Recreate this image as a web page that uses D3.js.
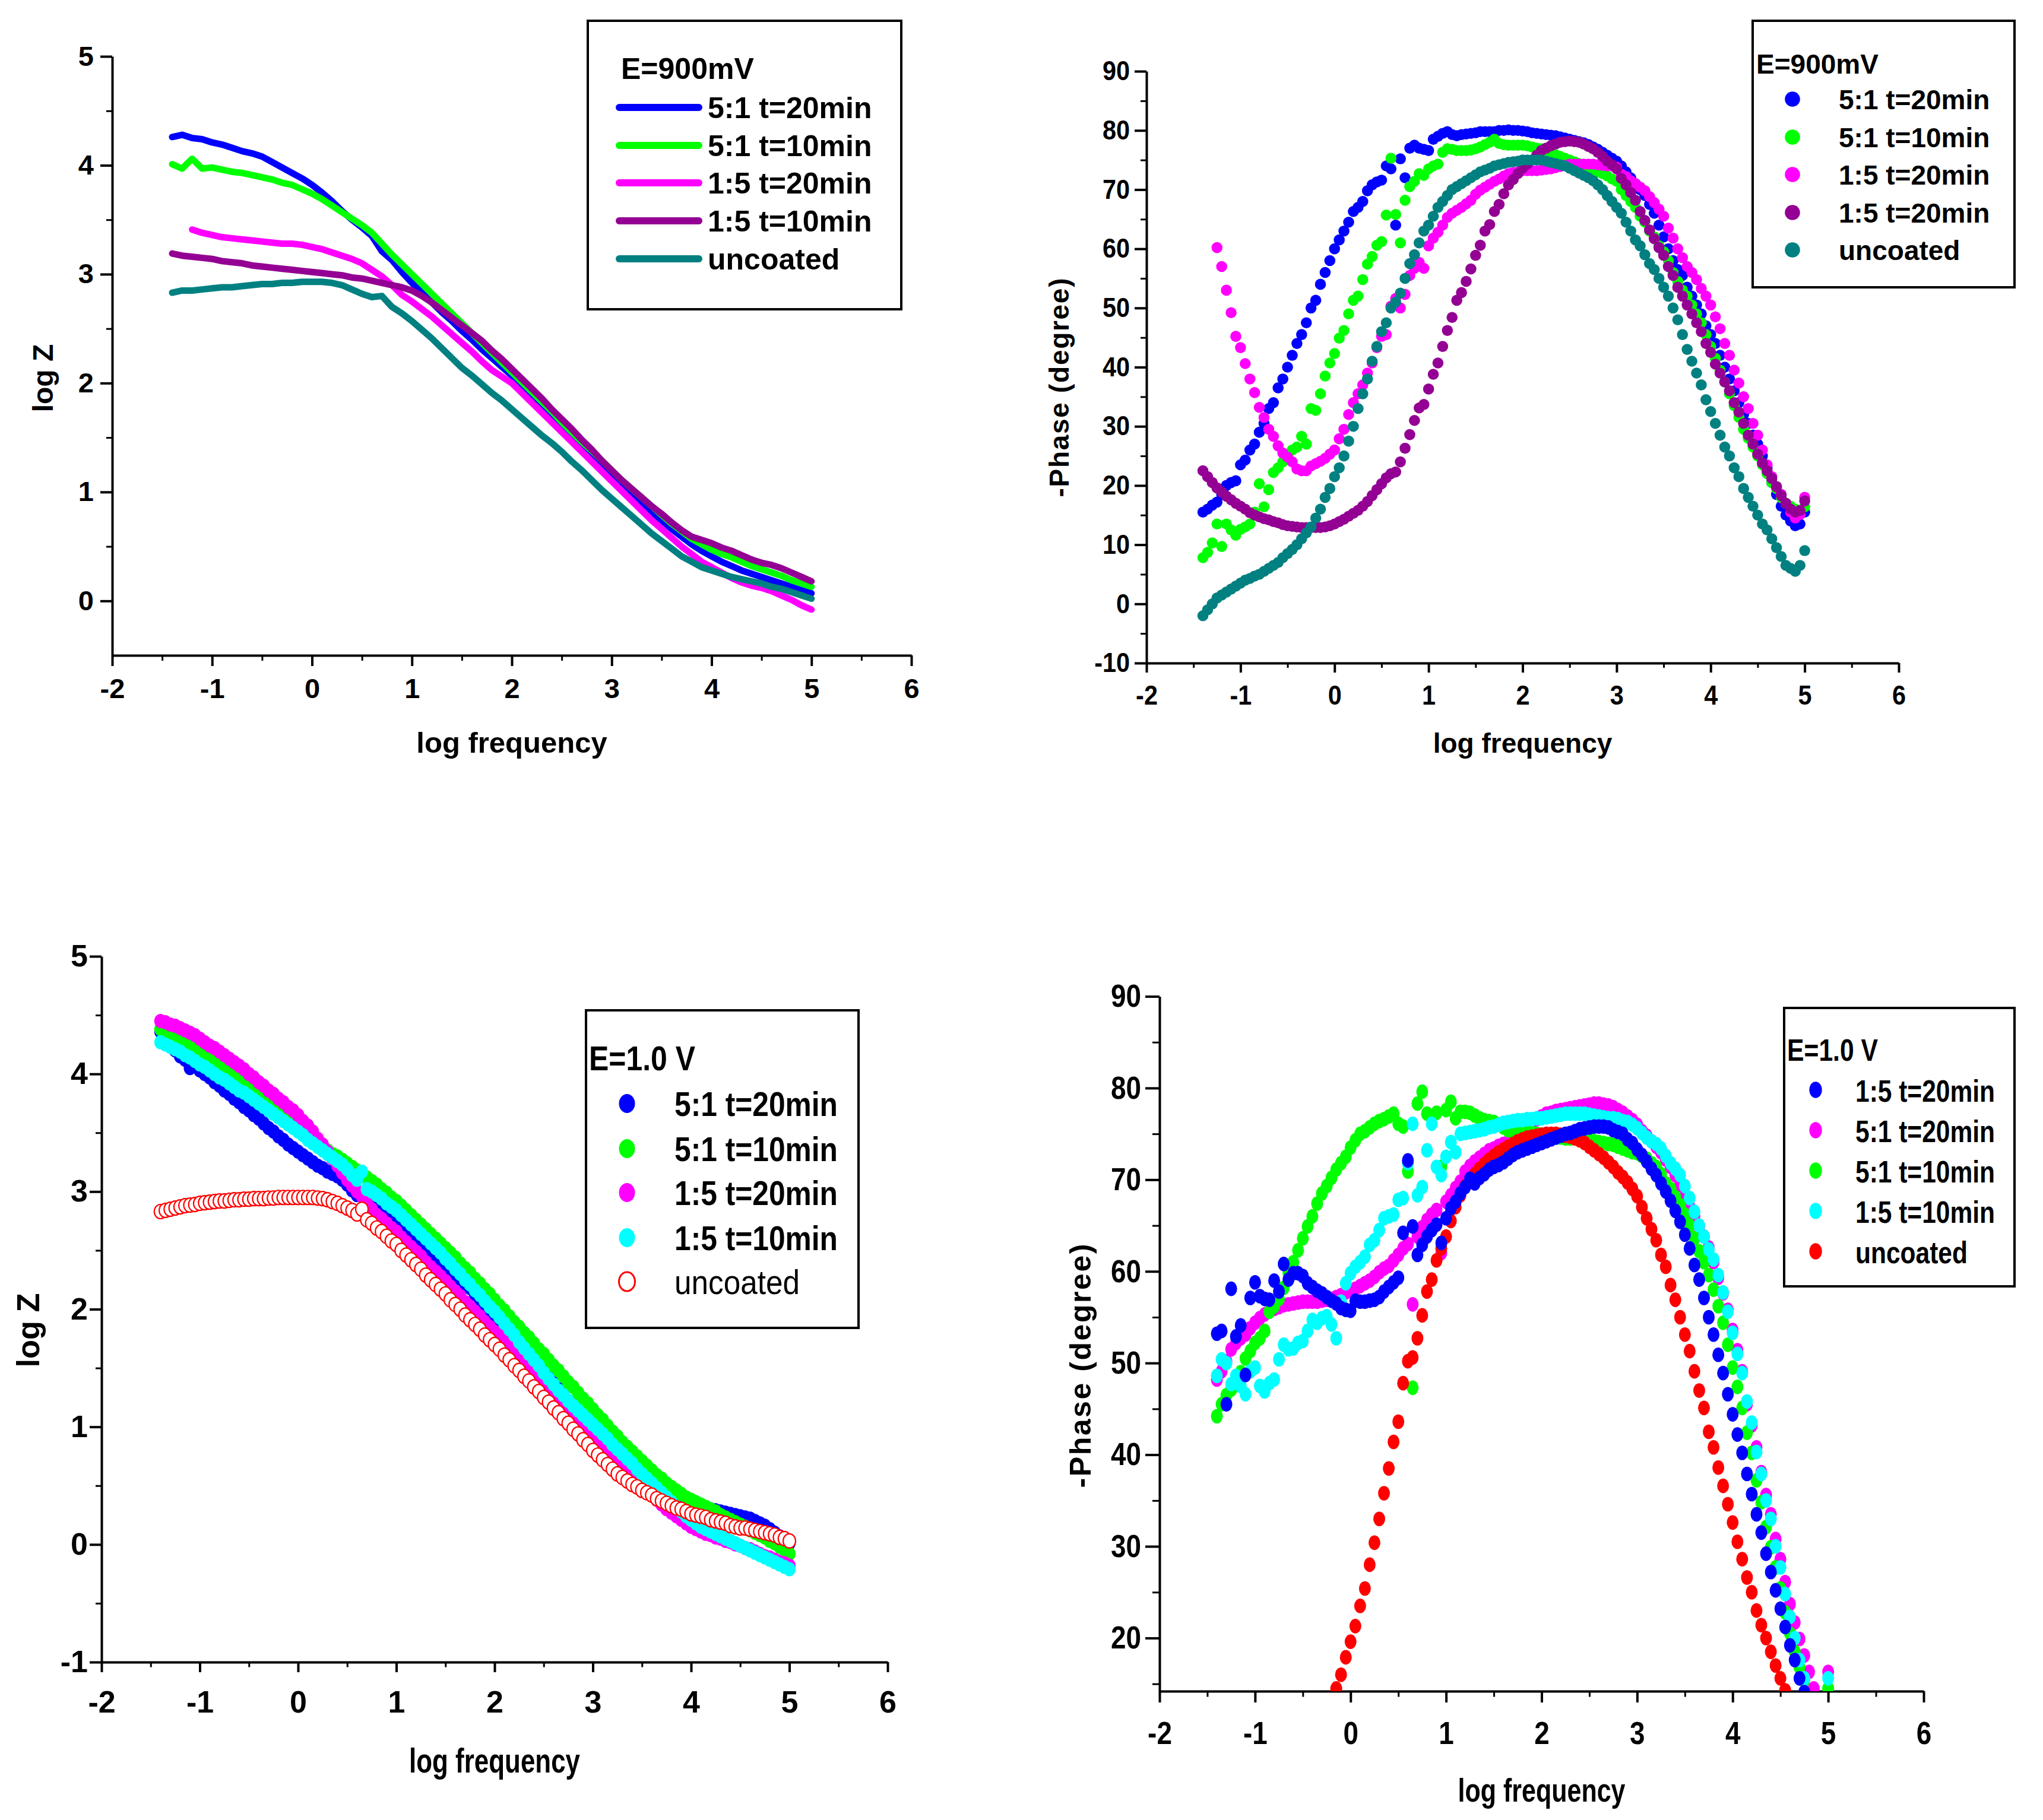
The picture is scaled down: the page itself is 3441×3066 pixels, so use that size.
<!DOCTYPE html>
<html>
<head>
<meta charset="utf-8">
<title>EIS Bode plots</title>
<script src="https://cdn.jsdelivr.net/npm/d3@7/dist/d3.min.js"></script>
<style>
  body { margin: 0; background: #fff; }
  svg text { font-family: "Liberation Sans", Arial, Helvetica, sans-serif; font-weight: bold; fill: #000; }
</style>
</head>
<body>
<script>
// ---------- data: log frequency grids ----------
var freqZ900 = [-1.4,-1.3,-1.2,-1.1,-1.0,-0.9,-0.8,-0.7,-0.6,-0.5,
  -0.4,-0.3,-0.2,-0.1,0,0.1,0.2,0.3,0.4,0.5,
  0.6,0.7,0.8,0.9,1.0,1.1,1.2,1.3,1.4,1.5,
  1.6,1.7,1.8,1.9,2.0,2.1,2.2,2.3,2.4,2.5,
  2.6,2.7,2.8,2.9,3.0,3.1,3.2,3.3,3.4,3.5,
  3.6,3.7,3.8,3.9,4.0,4.1,4.2,4.3,4.4,4.5,
  4.6,4.7,4.8,4.9,5.0];

var freqEis = [-1.4,-1.35,-1.3,-1.25,-1.2,-1.15,-1.1,-1.05,-1.0,-0.95,
  -0.9,-0.85,-0.8,-0.75,-0.7,-0.65,-0.6,-0.55,-0.5,-0.45,
  -0.4,-0.35,-0.3,-0.25,-0.2,-0.15,-0.1,-0.05,0,0.05,
  0.1,0.15,0.2,0.25,0.3,0.35,0.4,0.45,0.5,0.55,
  0.6,0.65,0.7,0.75,0.8,0.85,0.9,0.95,1.0,1.05,
  1.1,1.15,1.2,1.25,1.3,1.35,1.4,1.45,1.5,1.55,
  1.6,1.65,1.7,1.75,1.8,1.85,1.9,1.95,2.0,2.05,
  2.1,2.15,2.2,2.25,2.3,2.35,2.4,2.45,2.5,2.55,
  2.6,2.65,2.7,2.75,2.8,2.85,2.9,2.95,3.0,3.05,
  3.1,3.15,3.2,3.25,3.3,3.35,3.4,3.45,3.5,3.55,
  3.6,3.65,3.7,3.75,3.8,3.85,3.9,3.95,4.0,4.05,
  4.1,4.15,4.2,4.25,4.3,4.35,4.4,4.45,4.5,4.55,
  4.6,4.65,4.7,4.75,4.8,4.85,4.9,4.95,5.0];

// ---------- panel 1: log Z, E=900mV ----------
var z900_51_20 = [4.26,4.28,4.25,4.24,4.21,4.19,4.16,4.13,4.11,4.08,
  4.03,3.98,3.93,3.88,3.82,3.75,3.67,3.58,3.50,3.43,
  3.35,3.21,3.13,3.02,2.92,2.83,2.74,2.65,2.57,2.48,
  2.40,2.31,2.23,2.15,2.07,1.98,1.89,1.80,1.71,1.61,
  1.52,1.43,1.34,1.24,1.15,1.06,0.97,0.89,0.81,0.74,
  0.66,0.59,0.52,0.46,0.41,0.36,0.32,0.28,0.25,0.22,
  0.19,0.16,0.13,0.10,0.07];
var z900_51_10 = [4.01,3.97,4.06,3.97,3.98,3.96,3.94,3.93,3.91,3.89,
  3.87,3.84,3.82,3.78,3.74,3.69,3.63,3.57,3.51,3.45,
  3.38,3.28,3.18,3.09,3.00,2.91,2.82,2.73,2.64,2.55,
  2.46,2.37,2.28,2.19,2.10,2.01,1.92,1.83,1.74,1.64,
  1.55,1.46,1.38,1.29,1.20,1.11,1.03,0.95,0.87,0.79,
  0.71,0.64,0.57,0.52,0.47,0.43,0.40,0.36,0.32,0.29,
  0.26,0.23,0.19,0.16,0.13];
var z900_15_20 = [null,null,3.41,3.38,3.36,3.34,3.33,3.32,3.31,3.30,
  3.29,3.28,3.28,3.27,3.25,3.23,3.20,3.17,3.14,3.10,
  3.04,2.98,2.90,2.81,2.75,2.68,2.61,2.53,2.45,2.37,
  2.29,2.20,2.12,2.06,2.00,1.91,1.82,1.73,1.64,1.55,
  1.46,1.37,1.28,1.19,1.10,1.01,0.92,0.83,0.74,0.66,
  0.58,0.50,0.43,0.36,0.31,0.26,0.21,0.17,0.14,0.12,
  0.09,0.05,0.01,-0.04,-0.08];
var z900_15_10 = [3.19,3.17,3.16,3.15,3.14,3.12,3.11,3.10,3.08,3.07,
  3.06,3.05,3.04,3.03,3.02,3.01,3.00,2.99,2.97,2.96,
  2.94,2.92,2.90,2.88,2.85,2.80,2.74,2.67,2.60,2.53,
  2.46,2.39,2.30,2.22,2.13,2.04,1.95,1.86,1.76,1.67,
  1.58,1.48,1.39,1.29,1.20,1.11,1.03,0.95,0.87,0.80,
  0.72,0.65,0.59,0.56,0.53,0.49,0.46,0.42,0.38,0.35,
  0.33,0.30,0.26,0.22,0.18];
var z900_bare = [2.83,2.85,2.85,2.86,2.87,2.88,2.88,2.89,2.90,2.91,
  2.91,2.92,2.92,2.93,2.93,2.93,2.92,2.90,2.86,2.82,
  2.79,2.80,2.70,2.64,2.57,2.49,2.41,2.32,2.23,2.14,
  2.07,1.99,1.91,1.84,1.76,1.68,1.60,1.52,1.45,1.37,
  1.28,1.20,1.11,1.02,0.94,0.86,0.78,0.70,0.62,0.55,
  0.48,0.41,0.36,0.31,0.28,0.25,0.22,0.20,0.18,0.16,
  0.13,0.11,0.08,0.05,0.02];

// ---------- panel 2: -phase, E=900mV ----------
var ph900_51_20 = [15.5,16,16.7,17.2,18.5,20,20.5,20.8,23.5,24.3,
  26,27,29,30.5,33,34,36.5,38,40,42,
  44,45.5,47.5,50,51.3,54,56,58,60,61.5,
  63,64.5,66.3,67,68,69.8,70.8,71.3,71.6,74,
  73.5,64,75.2,72,77,77.5,77,76.8,76.6,78.5,
  79,79.5,79.8,79.3,79.1,79.3,79.4,79.5,79.6,79.8,
  79.8,79.8,79.8,80,80,80.1,80,80,79.9,79.8,
  79.6,79.5,79.4,79.3,79.2,79.1,78.9,78.7,78.5,78.3,
  78.1,77.9,77.6,77.2,76.8,76.3,75.8,75.3,74.8,74,
  73,72,71,70,69,67.5,66,64,62,60,
  58,56.5,55.5,53.5,52,50.5,49,47,45.5,44,
  42,40,38,36,34,32,30.5,28.5,27,25,
  23,20.5,18.5,16.5,15,14,13.2,13.5,15.5];
var ph900_51_10 = [7.8,8.7,10.3,13.5,9.7,13.5,12.5,11.6,12.6,13,
  13.5,15.5,20.3,16.4,19.3,22.2,23,24,25,26,
  26.5,28.3,27,33,32.7,35.5,38.5,40.7,42.3,44.9,
  46.2,49,51.3,52,54.8,57.4,58.7,60.6,61.2,65.7,
  75.3,65.8,61,68.2,70.5,71.4,72.7,72.4,73.5,74,
  74.3,76.3,76.9,76.8,76.6,76.6,76.6,76.7,76.9,77.2,
  77.6,78,78.5,77.8,77.6,77.5,77.5,77.5,77.5,77.4,
  77.2,77,76.9,76.6,76.2,75.9,75.6,75.3,75,74.7,
  74.4,74,73.7,73.3,73,72.7,72.3,71.8,71.4,70,
  69,68,67,65.5,64.5,63,62,60.5,59.5,58,
  56,54.5,53,52,50.5,49,47.5,45.5,43.5,41.5,
  39.5,37.5,35.5,33.5,31.5,29.5,28,26.5,25,23.5,
  22,20.5,19.5,18,17,16.5,16,15.8,16.4];
var ph900_15_20 = [null,null,null,60.2,57,53,49.2,45.2,43.3,40.6,
  38,35.7,33.2,31.5,29.5,28.3,26.7,25.5,24.8,24,
  22.8,22.5,22.5,23.3,23.7,24.1,24.6,25.3,26,27.9,
  29.5,32,34,35.5,37,39,40.7,43.3,45.2,45.5,
  50.3,51.6,50,52.3,55.5,56.7,57.7,56.7,60.5,61.8,
  62.8,64,65.3,66,66.5,67,67.6,68.2,69.2,69.9,
  70.4,70.9,71.4,71.8,72.3,72.7,72.9,73,73.2,73.2,
  73.2,73.2,73.3,73.4,73.5,73.7,73.9,74.1,74.3,74.3,
  74.3,74.3,74.3,74.3,74.2,74.1,74,74,73.8,72.6,
  72.2,71.5,71,70.4,69.8,68.8,67.8,66.7,65.5,63.5,
  61.8,60,58.5,57,56,54.8,53.3,52,50.5,48.5,
  46.5,44,42,39.5,37.3,35,33,30.5,28.5,26,
  23.5,21.5,19.8,18.5,17,15.5,14.5,15.1,18];
var ph900_15_10 = [22.5,21.5,20.5,19.6,18.9,18.2,17.6,17,16.5,16,
  15.4,15,14.7,14.4,14.2,13.9,13.7,13.4,13.2,13.1,
  13,12.9,12.9,12.9,12.9,12.9,13,13.2,13.5,13.9,
  14.3,14.8,15.3,15.8,16.5,17.3,18.3,19.3,20.3,21.3,
  22,22.3,24,26.3,28.6,31,33.1,33.7,36.3,38.8,
  40.7,43.5,46.2,48.4,51.3,52.6,54.5,56.6,58.9,60.6,
  63,64.1,66.3,67.5,69.3,70.8,71.7,72.7,73.6,74.3,
  75,75.8,76.6,77,77.4,77.7,78,78.1,78.2,78.1,
  78,77.7,77.3,76.9,76.3,75.6,74.8,74.2,73.5,71.9,
  70.8,69.5,68.2,66.3,64.8,63.2,61.7,60.2,58.9,57,
  55.5,53.5,52,50.5,49,47.5,46,44,42.5,40.5,
  39,37.5,36,34,32.4,30.5,28.5,27,25.3,23.8,
  22.5,21.2,19.8,18.3,17,16,15.5,15.8,17.4];
var ph900_bare = [-2,-1,0,1,1.5,2,2.5,3,3.5,4,
  4.3,4.7,5,5.5,6,6.5,7,7.8,8.5,9.2,
  10,11,12,13,14.5,16,18,19.5,21.5,23,
  25,27.5,30,33,35.5,38,41,43.5,46,47.5,
  50,51,52.5,55,57.5,59,61,63,64,65.5,
  67,68,69,70,70.5,71,71.5,72,72.5,73,
  73.3,73.6,74,74.2,74.4,74.6,74.7,74.8,75,75,
  75,75,75,74.8,74.6,74.4,74.2,74,73.6,73.2,
  72.8,72.4,72,71.5,70.8,70,69,68,67,66,
  64.5,63,61.5,60.5,59,57.5,56.5,55,53.5,52,
  50,48,45.5,43,41,39,37,34.5,32.5,30.5,
  28.5,26.5,25,23,21.5,19.5,18,16.5,15,13.5,
  12.5,11,9.5,8,6.5,6,5.5,6.5,9];

// ---------- panel 3: log Z, E=1.0 V ----------
var z10_51_20 = [4.36,4.30,4.24,4.20,4.15,4.12,4.05,4.07,4.03,4.00,
  3.97,3.93,3.90,3.86,3.83,3.79,3.76,3.72,3.69,3.65,
  3.62,3.58,3.54,3.51,3.47,3.44,3.40,3.37,3.34,3.31,
  3.28,3.25,3.22,3.20,3.17,3.15,3.13,3.10,3.06,3.01,
  2.97,2.98,2.96,2.93,2.90,2.86,2.83,2.80,2.76,2.73,
  2.69,2.66,2.62,2.58,2.54,2.50,2.46,2.42,2.38,2.34,
  2.30,2.26,2.22,2.18,2.13,2.09,2.04,2.00,1.95,1.90,
  1.86,1.81,1.76,1.71,1.66,1.61,1.56,1.51,1.46,1.42,
  1.37,1.32,1.27,1.22,1.18,1.13,1.08,1.04,0.99,0.95,
  0.90,0.86,0.81,0.77,0.73,0.69,0.65,0.61,0.57,0.53,
  0.50,0.46,0.43,0.40,0.38,0.36,0.35,0.34,0.33,0.33,
  0.32,0.31,0.30,0.29,0.28,0.27,0.26,0.25,0.24,0.23,
  0.22,0.20,0.18,0.16,0.13,0.10,0.07,0.04,0.01];
var z10_51_10 = [4.38,4.36,4.34,4.32,4.30,4.27,4.25,4.22,4.19,4.16,
  4.14,4.11,4.08,4.04,4.01,3.97,3.94,3.91,3.87,3.84,
  3.81,3.77,3.74,3.71,3.67,3.64,3.61,3.57,3.54,3.51,
  3.47,3.44,3.41,3.38,3.35,3.32,3.30,3.27,3.24,3.21,
  3.18,3.15,3.12,3.09,3.06,3.02,2.99,2.95,2.92,2.88,
  2.84,2.80,2.76,2.72,2.68,2.64,2.60,2.56,2.52,2.48,
  2.44,2.39,2.35,2.31,2.26,2.22,2.17,2.13,2.08,2.03,
  1.99,1.94,1.89,1.85,1.80,1.76,1.71,1.66,1.62,1.57,
  1.52,1.48,1.43,1.38,1.34,1.29,1.24,1.20,1.15,1.10,
  1.06,1.01,0.96,0.92,0.87,0.83,0.79,0.75,0.71,0.67,
  0.63,0.59,0.56,0.52,0.49,0.46,0.43,0.40,0.38,0.36,
  0.34,0.32,0.30,0.28,0.25,0.23,0.21,0.19,0.17,0.15,
  0.12,0.10,0.08,0.06,0.03,0.01,-0.02,-0.05,-0.08];
var z10_15_20 = [4.45,4.44,4.42,4.41,4.39,4.37,4.35,4.33,4.30,4.27,
  4.24,4.22,4.19,4.16,4.13,4.10,4.07,4.04,4.00,3.97,
  3.93,3.90,3.86,3.83,3.79,3.76,3.72,3.69,3.65,3.60,
  3.56,3.51,3.45,3.40,3.34,3.28,3.22,3.16,3.10,3.05,
  3.00,2.96,2.90,2.85,2.80,2.77,2.73,2.69,2.66,2.61,
  2.57,2.53,2.49,2.45,2.40,2.36,2.32,2.28,2.24,2.19,
  2.15,2.11,2.06,2.02,1.98,1.94,1.89,1.85,1.81,1.77,
  1.72,1.68,1.63,1.59,1.54,1.50,1.45,1.41,1.36,1.32,
  1.27,1.23,1.18,1.14,1.09,1.05,1.00,0.96,0.91,0.87,
  0.83,0.78,0.74,0.70,0.66,0.62,0.58,0.54,0.50,0.46,
  0.42,0.38,0.34,0.30,0.27,0.24,0.21,0.18,0.15,0.13,
  0.11,0.09,0.08,0.06,0.05,0.03,0.02,0.00,-0.01,-0.03,
  -0.04,-0.06,-0.08,-0.10,-0.11,-0.13,-0.15,-0.16,-0.18];
var z10_15_10 = [4.27,4.25,4.23,4.21,4.19,4.16,4.14,4.11,4.08,4.06,
  4.03,4.00,3.97,3.95,3.92,3.89,3.86,3.84,3.81,3.78,
  3.75,3.72,3.69,3.66,3.63,3.60,3.57,3.54,3.51,3.48,
  3.44,3.41,3.38,3.35,3.32,3.29,3.26,3.23,3.19,3.14,
  3.10,3.17,3.02,3.00,2.97,2.94,2.90,2.87,2.84,2.80,
  2.76,2.72,2.68,2.64,2.60,2.56,2.52,2.48,2.43,2.39,
  2.34,2.30,2.25,2.21,2.16,2.12,2.07,2.02,1.98,1.93,
  1.88,1.83,1.78,1.72,1.67,1.62,1.57,1.52,1.46,1.41,
  1.36,1.31,1.27,1.22,1.18,1.14,1.10,1.06,1.02,0.98,
  0.94,0.90,0.85,0.81,0.77,0.73,0.69,0.64,0.60,0.56,
  0.52,0.48,0.44,0.40,0.36,0.32,0.28,0.24,0.21,0.18,
  0.15,0.13,0.11,0.09,0.07,0.05,0.03,0.01,-0.01,-0.03,
  -0.05,-0.07,-0.09,-0.11,-0.13,-0.15,-0.17,-0.19,-0.21];
var z10_bare = [2.83,2.84,2.85,2.86,2.87,2.88,2.885,2.89,2.90,2.905,
  2.91,2.915,2.92,2.92,2.925,2.93,2.93,2.935,2.935,2.94,
  2.94,2.94,2.945,2.945,2.95,2.95,2.95,2.95,2.95,2.95,
  2.95,2.95,2.945,2.94,2.93,2.915,2.90,2.88,2.86,2.84,
  2.81,2.85,2.76,2.73,2.69,2.66,2.62,2.58,2.55,2.50,
  2.46,2.42,2.38,2.34,2.29,2.25,2.21,2.17,2.13,2.08,
  2.04,2.00,1.95,1.91,1.87,1.83,1.78,1.74,1.70,1.66,
  1.61,1.57,1.52,1.48,1.43,1.39,1.34,1.30,1.25,1.21,
  1.16,1.12,1.07,1.03,0.98,0.94,0.89,0.85,0.80,0.76,
  0.72,0.68,0.64,0.60,0.57,0.54,0.51,0.49,0.46,0.44,
  0.42,0.39,0.37,0.35,0.33,0.31,0.30,0.28,0.26,0.25,
  0.24,0.23,0.21,0.20,0.19,0.18,0.16,0.15,0.14,0.14,
  0.13,0.12,0.11,0.10,0.09,0.08,0.06,0.05,0.03];

// ---------- panel 4: -phase, E=1.0 V ----------
var ph10_15_20 = [53.2,53.5,45.5,58.1,52.9,54.1,48.7,57.1,58.8,57.3,
  57,56.9,59,57.8,60.8,59.1,59.8,59.8,59.5,58.7,
  58.3,57.9,57.6,57.2,56.8,56.5,56,55.8,55.7,56.8,
  56.7,56.7,56.8,56.9,57.2,57.8,58.3,58.8,59.3,64.2,
  72.1,64.9,61.8,62.9,63.8,64.5,65.1,63.1,65.8,66.9,
  67.6,68.5,69.2,70.1,69.6,70.2,70.6,71.1,71.4,71.6,
  71.9,72.3,72.7,73,73.2,73.4,73.6,73.8,74,74.2,
  74.4,74.6,74.8,75,75.1,75.3,75.5,75.6,75.7,75.8,
  75.8,75.8,75.7,75.4,75.2,75,74.4,74,73.3,72.7,
  72,71.2,70.5,69.6,68.7,67.7,66.6,65.4,64,62.5,
  60.7,59.1,57.1,55,53.1,50.9,48.9,46.6,44.4,42.2,
  40.2,37.9,35.7,33.5,31.5,29.2,27.2,25.2,23.2,21.2,
  19.2,17.6,15.6,14.1,null,null,null,null,null];
var ph10_51_20 = [48.2,49.1,50.2,51.5,52.2,52.7,53.1,53.8,54.4,54.9,
  55.3,55.7,55.9,56.1,56.3,56.4,56.5,56.6,56.7,56.7,
  56.7,56.7,56.8,56.9,57,57.2,57.4,57.7,57.9,58.1,
  58.4,58.7,59,59.4,59.9,60.3,60.6,61.2,61.8,62.5,
  63,56.4,63.8,64.8,65.6,66.2,66.7,62,67.6,68.3,
  69.1,69.8,70.9,71.5,72,72.4,72.8,73.2,73.4,73.7,
  73.9,74.1,74.3,74.6,75.2,75.8,76.3,76.6,76.9,77.2,
  77.3,77.5,77.6,77.7,77.8,77.9,78,78.1,78.2,78.3,
  78.3,78.2,78.1,77.9,77.6,77.3,76.9,76.5,76,75.3,
  74.8,74.2,73.6,73,72.2,71.4,70.5,69.4,68.1,67,
  66,64.9,63.8,62.6,61,59.3,57.6,55.8,53.6,51.4,
  49.1,45.5,43.2,40.8,38.1,35.6,33.5,30.8,28.6,26.1,
  23.7,21.7,19.9,18.1,16.3,14.5,null,null,16.3];
var ph10_51_10 = [44.2,45.5,46.5,47.1,47.6,49,50.5,51.3,52.2,52.7,
  53.5,55.6,56.2,57,58.2,59.8,61,62.3,63.6,64.9,
  66,67.4,68.5,69.3,70.2,71.1,71.8,72.5,73.5,74.3,
  75,75.3,75.7,76.1,76.4,76.6,76.9,77.2,76.1,75.8,
  70.9,47.3,78.3,79.6,77.2,76.9,77.3,71.4,77.6,78.5,
  76.7,77.4,77.4,77.3,77,76.7,76.5,76.4,76.3,76,
  75.7,75.4,75.3,75.3,75.2,75.1,75.1,75,74.9,74.8,
  74.7,74.6,74.6,74.5,74.5,74.6,74.7,74.6,74.4,74.2,
  74.1,74,73.9,73.8,73.6,73.4,73.2,73,72.9,72.6,
  72.3,71.8,71.4,70.6,69.6,69,68.1,67.2,66.2,65,
  63.6,62.2,61,59.6,58,56.2,54.4,52,49.5,47.4,
  45.1,42.4,40.2,37.2,34.8,32.1,29.9,27.7,25.4,22.8,
  20.5,18.5,16.8,15.4,null,null,null,null,14.5];
var ph10_15_10 = [48.6,50.4,50,47.7,48.6,47.5,46.6,49.1,49.5,47.5,
  46.9,47.8,48.2,50.4,52,51.5,51.6,52.2,52.4,53.5,
  54.7,54.4,54.9,55.1,54.2,52.7,56.7,58.7,59.8,60.5,
  61,61.6,62.9,63.4,64.5,65.8,66,66.2,67.8,68,
  71.8,76.1,68.3,69.2,73.2,76.1,71.4,70.5,72.5,74.1,
  73,75,75.1,75.2,75.3,75.4,75.5,75.7,75.8,76,
  76.2,76.3,76.4,76.5,76.5,76.6,76.6,76.7,76.7,76.8,
  76.9,77,77.1,77.2,77.2,77.2,77.2,77.2,77.1,77,
  76.9,76.8,76.7,76.7,76.6,76.4,76.3,76,75.6,75.1,
  74.6,74.2,73.9,73.4,72.6,71.8,71.2,70.5,69.3,68,
  66.5,65,63.8,62.4,61.3,59.6,57.7,55.6,53.3,51,
  48.9,45.8,43.5,40.3,37.9,35,33,30,27.7,24.8,
  22.3,20,17.6,15.6,null,null,null,null,15.6];
var ph10_bare = [null,null,null,null,null,null,null,null,null,null,
  null,null,null,null,null,null,null,null,null,null,
  null,null,null,null,null,14.5,16,17.9,19.6,21.3,
  23.5,25.4,28,30.4,33,35.8,38.5,41.4,43.6,47.8,
  50.2,50.6,52.7,55.2,57.8,59.1,61.2,62.5,63.8,65.5,
  67,68.3,69.3,70,70.6,71.2,71.7,72.2,72.6,73,
  73.3,73.6,73.9,74.2,74.4,74.6,74.7,74.8,74.9,75,
  75,75,74.9,74.8,74.7,74.5,74.3,74,73.6,73.2,
  72.8,72.4,71.9,71.4,70.8,70.3,69.7,69,68.2,67,
  65.8,64.6,63.4,61.8,60.5,58.5,56.9,55,53.1,51.3,
  49.1,47,45.1,42.5,40.8,38.6,36.6,34.6,32.6,30.5,
  28.6,26.6,25,23,21.4,20,18.5,17,15.6,14.3,
  null,null,null,null,null,null,null,null,null];

// ---------- tick labels ----------
var xTicks = [-2,-1,0,1,2,3,4,5,6];
var xMinor = [-1.5,-0.5,0.5,1.5,2.5,3.5,4.5,5.5];
var yTicksZ900 = [0,1,2,3,4,5];
var yMinorZ900 = [0.5,1.5,2.5,3.5,4.5];
var yTicksPh900 = [-10,0,10,20,30,40,50,60,70,80,90];
var yMinorPh900 = [-5,5,15,25,35,45,55,65,75,85];
var yTicksZ10 = [-1,0,1,2,3,4,5];
var yMinorZ10 = [-0.5,0.5,1.5,2.5,3.5,4.5];
var yTicksPh10 = [20,30,40,50,60,70,80,90];
var yMinorPh10 = [15,25,35,45,55,65,75,85];

var BLUE = "#0000ff", GREEN = "#00ff00", MAGENTA = "#ff00ff",
    PURPLE = "#930093", TEAL = "#008080", CYAN = "#00ffff", RED = "#ff0000";

// ---------- drawing ----------
var svg = d3.select("body").append("svg")
  .attr("width", 3441).attr("height", 3066);
svg.append("rect").attr("width", 3441).attr("height", 3066).attr("fill", "#fff");

function textFit(sel, len, mode) {
  if (len) sel.attr("textLength", len).attr("lengthAdjust", mode || "spacingAndGlyphs");
  return sel;
}

function drawPanel(p) {
  var x = d3.scaleLinear().domain([-2, 6]).range([p.left, p.right]);
  var y = d3.scaleLinear().domain(p.yDomain).range([p.bottom, p.top]);
  var g = svg.append("g");

  // minor ticks
  g.append("g").attr("transform", "translate(0," + p.bottom + ")")
    .call(d3.axisBottom(x).tickValues(xMinor).tickSize(p.xTickLen / 2).tickFormat(""))
    .call(function(s) { s.select(".domain").remove(); s.selectAll("line").attr("stroke-width", 3); });
  g.append("g").attr("transform", "translate(" + p.left + ",0)")
    .call(d3.axisLeft(y).tickValues(p.yMinor).tickSize(p.yTickLen / 2).tickFormat(""))
    .call(function(s) { s.select(".domain").remove(); s.selectAll("line").attr("stroke-width", 3); });

  // major axes
  var ax = g.append("g").attr("transform", "translate(0," + p.bottom + ")")
    .call(d3.axisBottom(x).tickValues(xTicks).tickSize(p.xTickLen).tickSizeOuter(0)
      .tickPadding(p.xPad).tickFormat(function(d) { return String(d); }));
  var ay = g.append("g").attr("transform", "translate(" + p.left + ",0)")
    .call(d3.axisLeft(y).tickValues(p.yTicks).tickSize(p.yTickLen).tickSizeOuter(0)
      .tickPadding(p.yPad).tickFormat(function(d) { return String(d); }));
  [ax, ay].forEach(function(a) {
    a.attr("font-size", p.tickFont).attr("font-family", null);
    a.select(".domain").attr("stroke-width", 4);
    a.selectAll(".tick line").attr("stroke-width", 4);
    if (p.tickSquash) {
      a.selectAll(".tick text").each(function() {
        var w = this.getComputedTextLength();
        d3.select(this).attr("textLength", w * p.tickSquash).attr("lengthAdjust", "spacingAndGlyphs");
      });
    }
  });

  // axis titles
  textFit(g.append("text").attr("x", (p.left + p.right) / 2).attr("y", p.xTitleY)
    .attr("text-anchor", "middle").attr("font-size", p.xTitleSize).text("log frequency"), p.xTitleLen);
  textFit(g.append("text")
    .attr("transform", "translate(" + p.yTitleX + "," + p.yTitleY + ") rotate(-90)")
    .attr("text-anchor", "middle").attr("font-size", p.yTitleSize).text(p.yTitle),
    p.yTitleLen, p.yTitleAdjust);

  // data
  var clipId = "clip" + p.id;
  svg.append("clipPath").attr("id", clipId).append("rect")
    .attr("x", p.left).attr("y", p.top).attr("width", p.right - p.left).attr("height", p.bottom - p.top);
  var plot = g.append("g").attr("clip-path", "url(#" + clipId + ")");

  p.series.forEach(function(s) {
    var pts = p.freq.map(function(f, i) { return [f, s.values[i]]; });
    if (p.kind === "line") {
      plot.append("path")
        .datum(pts)
        .attr("fill", "none").attr("stroke", s.color).attr("stroke-width", 11)
        .attr("stroke-linecap", "round").attr("stroke-linejoin", "round")
        .attr("d", d3.line().defined(function(d) { return d[1] != null; })
          .x(function(d) { return x(d[0]); }).y(function(d) { return y(d[1]); }));
    } else {
      plot.append("g").selectAll("ellipse")
        .data(pts.filter(function(d) { return d[1] != null; }))
        .enter().append("ellipse")
        .attr("cx", function(d) { return x(d[0]); })
        .attr("cy", function(d) { return y(d[1]); })
        .attr("rx", p.rx).attr("ry", p.ry)
        .attr("fill", s.hollow ? "#fff" : s.color)
        .attr("stroke", s.hollow ? s.color : "none")
        .attr("stroke-width", s.hollow ? 2.2 : 0);
    }
  });

  // legend
  var L = p.legend;
  g.append("rect").attr("x", L.box[0]).attr("y", L.box[1])
    .attr("width", L.box[2] - L.box[0]).attr("height", L.box[3] - L.box[1])
    .attr("fill", "#fff").attr("stroke", "#000").attr("stroke-width", 4);
  textFit(g.append("text").attr("x", L.titleX).attr("y", L.titleY)
    .attr("font-size", L.size).text(L.title), L.titleLen);
  L.items.forEach(function(it, i) {
    var cy = L.rows[i];
    if (p.kind === "line") {
      g.append("line").attr("x1", L.markX[0]).attr("x2", L.markX[1])
        .attr("y1", cy).attr("y2", cy)
        .attr("stroke", it.color).attr("stroke-width", 12).attr("stroke-linecap", "round");
    } else {
      g.append("ellipse").attr("cx", L.markX).attr("cy", cy)
        .attr("rx", L.rx).attr("ry", L.ry)
        .attr("fill", it.hollow ? "#fff" : it.color)
        .attr("stroke", it.hollow ? it.color : "none").attr("stroke-width", it.hollow ? 3 : 0);
    }
    var t = g.append("text").attr("x", L.textX).attr("y", cy + L.baseShift)
      .attr("font-size", L.size).text(it.label);
    if (it.normal) t.style("font-weight", "normal");
    textFit(t, it.len || L.textLen);
  });
}

// panel 1
drawPanel({
  id: 1, kind: "line", freq: freqZ900,
  left: 189, right: 1535, top: 95, bottom: 1104, yDomain: [-0.5, 5],
  yTicks: yTicksZ900, yMinor: yMinorZ900,
  xTickLen: 18, yTickLen: 20, xPad: 21, yPad: 11, tickFont: 47,
  xTitleY: 1268, xTitleSize: 49, yTitle: "log Z", yTitleX: 89, yTitleY: 637, yTitleSize: 48,
  series: [
    { values: z900_51_20, color: BLUE },
    { values: z900_51_10, color: GREEN },
    { values: z900_15_20, color: MAGENTA },
    { values: z900_15_10, color: PURPLE },
    { values: z900_bare, color: TEAL }
  ],
  legend: {
    box: [990, 35, 1518, 521], title: "E=900mV", titleX: 1046, titleY: 133, size: 50,
    rows: [181, 245, 308, 372, 436], markX: [1043, 1177], textX: 1192, baseShift: 18,
    items: [
      { label: "5:1 t=20min", color: BLUE },
      { label: "5:1 t=10min", color: GREEN },
      { label: "1:5 t=20min", color: MAGENTA },
      { label: "1:5 t=10min", color: PURPLE },
      { label: "uncoated", color: TEAL }
    ]
  }
});

// panel 2
drawPanel({
  id: 2, kind: "dot", freq: freqEis, rx: 9.3, ry: 9.3,
  left: 1931, right: 3198, top: 120, bottom: 1117, yDomain: [-10, 90],
  yTicks: yTicksPh900, yMinor: yMinorPh900,
  xTickLen: 16, yTickLen: 20, xPad: 21, yPad: 8, tickFont: 46, tickSquash: 0.9,
  xTitleY: 1268, xTitleSize: 46, yTitle: "-Phase (degree)", yTitleX: 1800, yTitleY: 653,
  yTitleSize: 46, yTitleLen: 369, yTitleAdjust: "spacing",
  series: [
    { values: ph900_51_20, color: BLUE },
    { values: ph900_51_10, color: GREEN },
    { values: ph900_15_20, color: MAGENTA },
    { values: ph900_15_10, color: PURPLE },
    { values: ph900_bare, color: TEAL }
  ],
  legend: {
    box: [2952, 35, 3393, 484], title: "E=900mV", titleX: 2958, titleY: 124, size: 46,
    rows: [167, 231, 294, 358, 421], markX: 3019, rx: 12.8, ry: 12.8, textX: 3097, baseShift: 17,
    items: [
      { label: "5:1 t=20min", color: BLUE },
      { label: "5:1 t=10min", color: GREEN },
      { label: "1:5 t=20min", color: MAGENTA },
      { label: "1:5 t=20min", color: PURPLE },
      { label: "uncoated", color: TEAL }
    ]
  }
});

// panel 3
drawPanel({
  id: 3, kind: "dot", freq: freqEis, rx: 10.5, ry: 12,
  left: 171, right: 1495, top: 1611, bottom: 2800, yDomain: [-1, 5],
  yTicks: yTicksZ10, yMinor: yMinorZ10,
  xTickLen: 17, yTickLen: 20, xPad: 31, yPad: 3, tickFont: 52,
  xTitleY: 2986, xTitleSize: 58, xTitleLen: 288,
  yTitle: "log Z", yTitleX: 66, yTitleY: 2241, yTitleSize: 54, yTitleLen: 125,
  series: [
    { values: z10_51_20, color: BLUE },
    { values: z10_51_10, color: GREEN },
    { values: z10_15_20, color: MAGENTA },
    { values: z10_15_10, color: CYAN },
    { values: z10_bare, color: RED, hollow: true }
  ],
  legend: {
    box: [987, 1702, 1446, 2237], title: "E=1.0 V", titleX: 992, titleY: 1803, size: 57, titleLen: 179,
    rows: [1859, 1935, 2009, 2085, 2159], markX: 1056, rx: 13.5, ry: 16, textX: 1136, baseShift: 21,
    textLen: 275,
    items: [
      { label: "5:1 t=20min", color: BLUE },
      { label: "5:1 t=10min", color: GREEN },
      { label: "1:5 t=20min", color: MAGENTA },
      { label: "1:5 t=10min", color: CYAN },
      { label: "uncoated", color: RED, hollow: true, normal: true, len: 211 }
    ]
  }
});

// panel 4 (blue drawn last, on top)
drawPanel({
  id: 4, kind: "dot", freq: freqEis, rx: 10, ry: 12.3,
  left: 1953, right: 3240, top: 1678.5, bottom: 2849, yDomain: [14.2, 90],
  yTicks: yTicksPh10, yMinor: yMinorPh10,
  xTickLen: 19, yTickLen: 24, xPad: 32, yPad: 7, tickFont: 54, tickSquash: 0.85,
  xTitleY: 3035, xTitleSize: 56, xTitleLen: 282,
  yTitle: "-Phase (degree)", yTitleX: 1837, yTitleY: 2301, yTitleSize: 50, yTitleLen: 411,
  yTitleAdjust: "spacing",
  series: [
    { values: ph10_51_20, color: MAGENTA },
    { values: ph10_51_10, color: GREEN },
    { values: ph10_15_10, color: CYAN },
    { values: ph10_bare, color: RED },
    { values: ph10_15_20, color: BLUE }
  ],
  legend: {
    box: [3005, 1698, 3393, 2167], title: "E=1.0 V", titleX: 3010, titleY: 1787, size: 52, titleLen: 153,
    rows: [1836, 1904, 1972, 2040, 2108], markX: 3058, rx: 10.7, ry: 13.8, textX: 3125, baseShift: 20,
    textLen: 235,
    items: [
      { label: "1:5 t=20min", color: BLUE },
      { label: "5:1 t=20min", color: MAGENTA },
      { label: "5:1 t=10min", color: GREEN },
      { label: "1:5 t=10min", color: CYAN },
      { label: "uncoated", color: RED, len: 189 }
    ]
  }
});
</script>
</body>
</html>
